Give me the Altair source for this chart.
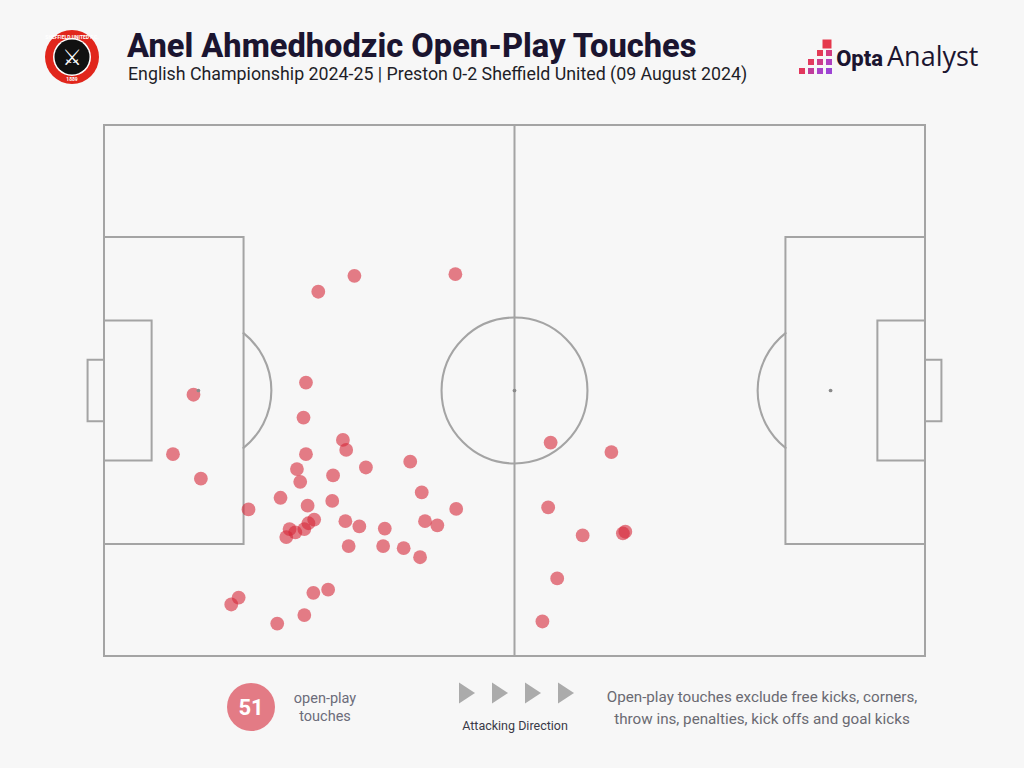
import altair as alt
import pandas as pd

# ---------------- text ----------------
TITLE = "Anel Ahmedhodzic Open-Play Touches"
SUBTITLE = "English Championship 2024-25 | Preston 0-2 Sheffield United (09 August 2024)"
BRAND_BOLD = "Opta"
BRAND_REG = "Analyst"
TOUCH_COUNT = "51"
COUNT_LABEL = ["open-play", "touches"]
DIRECTION_LABEL = "Attacking Direction"
NOTE = ["Open-play touches exclude free kicks, corners,",
        "throw ins, penalties, kick offs and goal kicks"]

# ---------------- data (Opta pitch units 0-100) ----------------
touch_x = [26.1, 30.5, 42.8, 10.9, 24.6, 24.3, 8.4, 11.8, 17.6, 29.1, 29.5, 24.6,
           23.5, 23.9, 27.9, 31.9, 37.3, 21.5, 24.8, 27.8, 38.7, 42.9, 25.6, 24.9,
           24.4, 22.6, 23.3, 22.2, 29.4, 31.1, 34.2, 39.1, 40.6, 29.8, 34.0, 36.5,
           38.5, 16.4, 15.5, 25.5, 27.3, 24.4, 21.1, 54.4, 61.8, 54.1, 58.3, 63.2,
           63.5, 55.2, 53.4]
touch_y = [68.6, 71.6, 71.9, 49.2, 51.5, 44.9, 38.0, 33.4, 27.6, 40.7, 38.8, 38.0,
           35.2, 32.8, 34.0, 35.5, 36.6, 29.8, 28.3, 29.2, 30.8, 27.7, 25.7, 25.0,
           23.9, 23.9, 23.3, 22.4, 25.4, 24.4, 24.0, 25.4, 24.6, 20.7, 20.7, 20.3,
           18.6, 11.0, 9.7, 11.9, 12.5, 7.7, 6.1, 40.2, 38.4, 28.0, 22.7, 23.1,
           23.4, 14.6, 6.5]

# pitch markings (Opta units): outline, boxes, goals, halfway line
line_x1 = [0, 0, 83, 0, 94.2, -2, 100, 50]
line_x2 = [100, 17, 100, 5.8, 100, 0, 102, 50]
line_y1 = [0, 21.1, 21.1, 36.8, 36.8, 44.2, 44.2, 0]
line_y2 = [100, 78.9, 78.9, 63.2, 63.2, 55.8, 55.8, 100]
spot_x = [11.5, 50, 88.5]
spot_y = [50, 50, 50]

# ---------------- style ----------------
BG = "#f7f7f7"
LINE = "#a4a4a4"
POINT = "#d62839"
DARK = "#1b1530"
FONT = "Roboto"

W, H = 821, 531
LEFT, TOP = 104, 125

xs = alt.Scale(domain=[0, 100], nice=False, zero=False)
ys = alt.Scale(domain=[0, 100], nice=False, zero=False)

touches = pd.DataFrame({"x": touch_x, "y": touch_y})
lines = pd.DataFrame({"x1": line_x1, "x2": line_x2, "y1": line_y1, "y2": line_y2})
spots = pd.DataFrame({"x": spot_x, "y": spot_y})

pitch = alt.Chart(lines).mark_rect(filled=False, color=LINE, strokeWidth=2).encode(
    x=alt.X("x1:Q", scale=xs, axis=None), x2="x2:Q",
    y=alt.Y("y1:Q", scale=ys, axis=None), y2="y2:Q")


def arc(cx, t1, t2):
    d = pd.DataFrame({"x": [cx], "y": [50]})
    return alt.Chart(d).mark_arc(theta=t1, theta2=t2, radius=73, radius2=72.9,
                                 filled=False, color=LINE, strokeWidth=2).encode(
        x=alt.X("x:Q", scale=xs, axis=None), y=alt.Y("y:Q", scale=ys, axis=None))


centre = arc(50, 0, 6.2832)
d_left = arc(11.5, 0.667, 2.475)
d_right = arc(88.5, 3.808, 5.617)

spot_layer = alt.Chart(spots).mark_circle(size=14, color="#8a8a8a", opacity=1).encode(
    x=alt.X("x:Q", scale=xs, axis=None), y=alt.Y("y:Q", scale=ys, axis=None))

points = alt.Chart(touches).mark_circle(size=190, color=POINT, opacity=0.6).encode(
    x=alt.X("x:Q", scale=xs, axis=None), y=alt.Y("y:Q", scale=ys, axis=None))


def label(text, px, py, **kw):
    d = pd.DataFrame({"t": [text]})
    return alt.Chart(d).mark_text(**kw).encode(
        text="t:N", x=alt.value(px - LEFT), y=alt.value(py - TOP))


def shape(px, py, **kw):
    d = pd.DataFrame({"t": [0]})
    return alt.Chart(d).mark_point(**kw).encode(
        x=alt.value(px - LEFT), y=alt.value(py - TOP))


layers = [pitch, centre, d_left, d_right, points, spot_layer]

# header
layers.append(label(TITLE, 127, 57, font=FONT, fontSize=32.6, fontWeight=800,
                    color=DARK, align="left", baseline="alphabetic"))
layers.append(label(SUBTITLE, 128, 80, font=FONT, fontSize=17.8, color="#1e1e28",
                    align="left", baseline="alphabetic"))

# club crest (approximation)
layers.append(shape(72, 57, shape="circle", filled=True, size=54 * 54, color="#e1261c", opacity=1))
layers.append(shape(72, 57, shape="circle", filled=True, size=38 * 38, color="#ffffff", opacity=1))
layers.append(shape(72, 57, shape="circle", filled=True, size=35 * 35, color="#111111", opacity=1))
layers.append(label("\u2694", 72, 58, font="DejaVu Sans", fontSize=22, color="#ffffff",
                    align="center", baseline="middle"))
layers.append(label("SHEFFIELD UNITED F.C.", 72, 37, font=FONT, fontSize=5, fontWeight="bold",
                    color="#ffffff", align="center", baseline="middle"))
layers.append(label("1889", 72, 79, font=FONT, fontSize=5, fontWeight="bold",
                    color="#ffffff", align="center", baseline="middle"))

# brand logo squares (decorative)
logo_sq = [(802, 71, "#e2375c"), (811, 71, "#c03c9a"), (820, 71, "#a942c8"), (829, 71, "#9d44d4"),
           (811, 62, "#e23a5e"), (820, 62, "#cc3c8a"), (829, 62, "#b040c0"),
           (820, 53, "#e33a55"), (829, 53, "#d33c80"),
           (827, 44, "#e5384c")]
for i, (sx, sy, sc) in enumerate(logo_sq):
    layers.append(shape(sx, sy, shape="square", filled=True, size=(9 if i == 9 else 6) ** 2,
                        color=sc, opacity=1))
layers.append(label(BRAND_BOLD, 883, 66, font=FONT, fontSize=22, fontWeight=800,
                    color=DARK, align="right", baseline="alphabetic"))
layers.append(label(BRAND_REG, 887, 66, font="Open Sans", fontSize=27, fontWeight=400,
                    color=DARK, align="left", baseline="alphabetic"))

# footer: count bubble
layers.append(shape(251, 707, shape="circle", filled=True, size=48 * 48, color=POINT, opacity=0.6))
layers.append(label(TOUCH_COUNT, 251, 708, font=FONT, fontSize=22, fontWeight="bold",
                    color="#ffffff", align="center", baseline="middle"))
layers.append(label(COUNT_LABEL[0], 325, 699, font=FONT, fontSize=14.5, color="#6c6c7a",
                    align="center", baseline="middle"))
layers.append(label(COUNT_LABEL[1], 325, 717, font=FONT, fontSize=14.5, color="#6c6c7a",
                    align="center", baseline="middle"))

# attacking direction arrows
for ax in [467, 500, 533, 566]:
    layers.append(shape(ax, 693, shape="M-0.76,-1L0.76,0L-0.76,1Z", filled=True, size=441,
                        color="#ababab", opacity=1))
layers.append(label(DIRECTION_LABEL, 515, 726, font=FONT, fontSize=12.5, color="#3a3a48",
                    align="center", baseline="middle"))

# note
layers.append(label(NOTE[0], 762, 697, font=FONT, fontSize=15.2, color="#6a6a72",
                    align="center", baseline="middle"))
layers.append(label(NOTE[1], 762, 719, font=FONT, fontSize=15.2, color="#6a6a72",
                    align="center", baseline="middle"))

chart = alt.layer(*layers).properties(
    width=W, height=H,
    autosize=alt.AutoSizeParams(type="none"),
    padding={"left": LEFT, "top": TOP, "right": 1024 - LEFT - W, "bottom": 768 - TOP - H},
    background=BG,
).configure_view(strokeWidth=0)

chart.save("out.html", embed_options={"renderer": "svg", "actions": False})
